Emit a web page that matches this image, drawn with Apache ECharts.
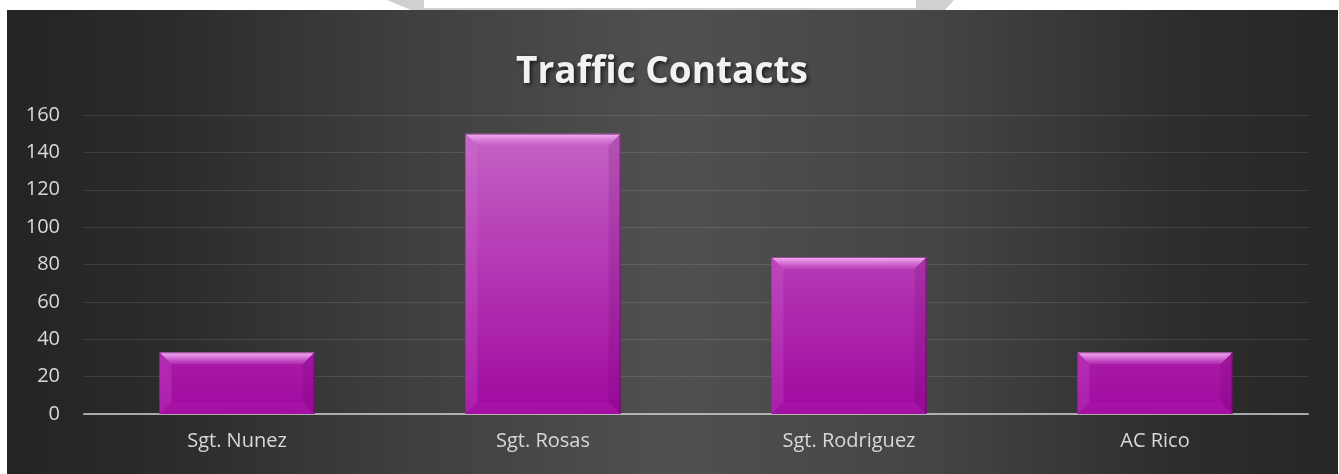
<!DOCTYPE html>
<html>
<head>
    <meta charset="utf-8">
    <title>Traffic Contacts</title>
    <script src="https://cdn.jsdelivr.net/npm/echarts@6/dist/echarts.min.js"></script>
    <style>
        html, body { margin: 0; padding: 0; background: #fff; }
        #main { width: 1339px; height: 474px; }
    </style>
</head>
<body>
    <div id="main"></div>
    <script type="text/javascript">
        // data
        var titleText = 'Traffic Contacts';
        var officers = ['Sgt. Nunez', 'Sgt. Rosas', 'Sgt. Rodriguez', 'AC Rico'];
        var contacts = [33, 150, 84, 33];
        var yTicks = [0, 20, 40, 60, 80, 100, 120, 140, 160];

        var myChart = echarts.init(document.getElementById('main'));

        var barData = officers.map(function (name, i) {
            return [i, contacts[i]];
        });

        // bevelled "glass" bar like the office chart
        function renderBar(params, api) {
            var top = api.coord([api.value(0), api.value(1)]);
            var base = api.coord([api.value(0), 0]);
            var axisTop = api.coord([api.value(0), yTicks[yTicks.length - 1]]);
            var w = api.size([1, 0])[0] * 0.507;
            var x0 = top[0] - w / 2, x1 = top[0] + w / 2;
            var y0 = top[1], y1 = base[1];
            var b = Math.min(12, (y1 - y0) / 2);

            var faceFill = {
                type: 'linear', x: 0, y: axisTop[1] + 20, x2: 0, y2: y1, global: true,
                colorStops: [
                    { offset: 0, color: '#c462c4' },
                    { offset: 0.6, color: '#af2caf' },
                    { offset: 1, color: '#a00aa0' }
                ]
            };
            return {
                type: 'group',
                children: [
                    { type: 'rect', shape: { x: x0, y: y0, width: w, height: y1 - y0 }, style: { fill: faceFill } },
                    // top bevel
                    { type: 'polygon', shape: { points: [[x0, y0], [x1, y0], [x1 - b, y0 + b], [x0 + b, y0 + b]] },
                      style: { fill: { type: 'linear', x: 0, y: 0, x2: 0, y2: 1, colorStops: [
                          { offset: 0, color: 'rgba(250,185,250,0.95)' }, { offset: 0.4, color: 'rgba(235,150,235,0.75)' }, { offset: 1, color: 'rgba(210,110,210,0.2)' }] } } },
                    // left bevel
                    { type: 'polygon', shape: { points: [[x0, y0], [x0 + b, y0 + b], [x0 + b, y1 - b], [x0, y1]] },
                      style: { fill: 'rgba(230,130,230,0.18)' } },
                    // right bevel
                    { type: 'polygon', shape: { points: [[x1, y0], [x1 - b, y0 + b], [x1 - b, y1 - b], [x1, y1]] },
                      style: { fill: 'rgba(90,0,90,0.15)' } },
                    // bottom bevel
                    { type: 'polygon', shape: { points: [[x0, y1], [x0 + b, y1 - b], [x1 - b, y1 - b], [x1, y1]] },
                      style: { fill: 'rgba(200,60,200,0.12)' } },
                    // dark edges top and right
                    { type: 'polyline', shape: { points: [[x0, y0 + 0.5], [x1 - 0.5, y0 + 0.5], [x1 - 0.5, y1]] },
                      style: { stroke: 'rgba(70,10,70,0.6)', lineWidth: 1, fill: null } }
                ]
            };
        }

        var option = {
            animation: false,
            backgroundColor: '#ffffff',
            title: {
                text: titleText,
                left: 657,
                top: 49,
                textAlign: 'center',
                textStyle: {
                    fontFamily: 'Open Sans',
                    fontWeight: 'bold',
                    fontSize: 37,
                    color: '#f2f2f2',
                    textShadowColor: 'rgba(0,0,0,0.65)',
                    textShadowBlur: 4,
                    textShadowOffsetX: 2,
                    textShadowOffsetY: 2
                }
            },
            graphic: {
                elements: [
                    // bit of the shape sitting above the chart
                    { type: 'polygon', z: -20, silent: true,
                      shape: { points: [[387, 0], [954, 0], [945, 10], [411, 10]] },
                      style: { fill: '#d0d0d0' } },
                    { type: 'rect', z: -19, silent: true,
                      shape: { x: 424, y: 0, width: 492, height: 8 },
                      style: { fill: '#ffffff' } },
                    // dark chart area
                    { type: 'rect', z: -18, silent: true,
                      shape: { x: 7, y: 10, width: 1331, height: 464 },
                      style: { fill: { type: 'linear', x: 0, y: 0, x2: 1, y2: 0, colorStops: [
                          { offset: 0, color: '#242424' },
                          { offset: 0.12, color: '#2b2b2b' },
                          { offset: 0.3, color: '#3f3f3f' },
                          { offset: 0.5, color: '#505050' },
                          { offset: 0.7, color: '#444444' },
                          { offset: 0.88, color: '#2d2d2d' },
                          { offset: 1, color: '#262626' }
                      ] } } }
                ]
            },
            grid: {
                left: 84,
                right: 31,
                top: 115,
                bottom: 60,
                containLabel: false
            },
            xAxis: {
                type: 'category',
                data: officers,
                axisTick: { show: false },
                axisLine: { lineStyle: { color: 'rgba(210,210,210,0.75)', width: 2 } },
                axisLabel: {
                    color: '#d9d9d9',
                    fontFamily: 'Open Sans',
                    fontSize: 20,
                    margin: 17
                }
            },
            yAxis: {
                type: 'value',
                min: yTicks[0],
                max: yTicks[yTicks.length - 1],
                interval: yTicks[1] - yTicks[0],
                axisLine: { show: false },
                axisTick: { show: false },
                axisLabel: {
                    color: '#d9d9d9',
                    fontFamily: 'Open Sans',
                    fontSize: 20,
                    margin: 24
                },
                splitLine: { lineStyle: { color: 'rgba(255,255,255,0.1)', width: 1 } }
            },
            series: [{
                name: titleText,
                type: 'custom',
                renderItem: renderBar,
                encode: { x: 0, y: 1 },
                data: barData
            }]
        };

        myChart.setOption(option);
        window.onresize = myChart.resize;
    </script>
</body>
</html>
